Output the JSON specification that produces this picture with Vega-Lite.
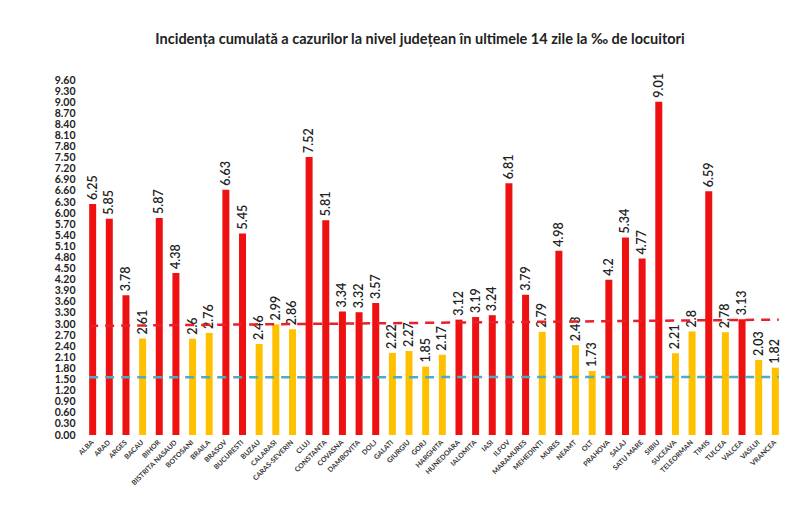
{
  "$schema": "https://vega.github.io/schema/vega-lite/v6.json",
  "autosize": "none",
  "width": 698,
  "height": 355,
  "padding": {"left": 85, "top": 80, "right": 17, "bottom": 84},
  "background": "white",
  "title": {
    "text": "Incidența cumulată a cazurilor la nivel județean în ultimele 14 zile la ‰ de locuitori",
    "font": "Lato",
    "fontSize": 14.5,
    "fontWeight": "bold",
    "color": "#222222",
    "anchor": "middle",
    "dx": -14,
    "offset": 26
  },
  "config": {
    "view": {"stroke": null},
    "font": "Lato",
    "axis": {"labelOverlap": false, "domain": false, "ticks": false, "grid": false, "title": null},
    "axisX": {
      "labelAngle": -45,
      "labelAlign": "right",
      "labelBaseline": "middle",
      "labelFontSize": 7,
      "labelFontWeight": "bold",
      "labelColor": "#333333",
      "labelPadding": 6,
      "labelOverlap": false
    },
    "axisY": {
      "labelFontSize": 10.5,
      "labelFontWeight": "bold",
      "labelColor": "#222222",
      "labelPadding": 10,
      "labelOverlap": false,
      "labelBound": false
    }
  },
  "datasets": {
    "counties": [
      {"judet": "ALBA", "v": 6.25},
      {"judet": "ARAD", "v": 5.85},
      {"judet": "ARGES", "v": 3.78},
      {"judet": "BACAU", "v": 2.61},
      {"judet": "BIHOR", "v": 5.87},
      {"judet": "BISTRITA NASAUD", "v": 4.38},
      {"judet": "BOTOSANI", "v": 2.6},
      {"judet": "BRAILA", "v": 2.76},
      {"judet": "BRASOV", "v": 6.63},
      {"judet": "BUCURESTI", "v": 5.45},
      {"judet": "BUZAU", "v": 2.46},
      {"judet": "CALARASI", "v": 2.99},
      {"judet": "CARAS-SEVERIN", "v": 2.86},
      {"judet": "CLUJ", "v": 7.52},
      {"judet": "CONSTANTA", "v": 5.81},
      {"judet": "COVASNA", "v": 3.34},
      {"judet": "DAMBOVITA", "v": 3.32},
      {"judet": "DOLJ", "v": 3.57},
      {"judet": "GALATI", "v": 2.22},
      {"judet": "GIURGIU", "v": 2.27},
      {"judet": "GORJ", "v": 1.85},
      {"judet": "HARGHITA", "v": 2.17},
      {"judet": "HUNEDOARA", "v": 3.12},
      {"judet": "IALOMITA", "v": 3.19},
      {"judet": "IASI", "v": 3.24},
      {"judet": "ILFOV", "v": 6.81},
      {"judet": "MARAMURES", "v": 3.79},
      {"judet": "MEHEDINTI", "v": 2.79},
      {"judet": "MURES", "v": 4.98},
      {"judet": "NEAMT", "v": 2.43},
      {"judet": "OLT", "v": 1.73},
      {"judet": "PRAHOVA", "v": 4.2},
      {"judet": "SALAJ", "v": 5.34},
      {"judet": "SATU MARE", "v": 4.77},
      {"judet": "SIBIU", "v": 9.01},
      {"judet": "SUCEAVA", "v": 2.21},
      {"judet": "TELEORMAN", "v": 2.8},
      {"judet": "TIMIS", "v": 6.59},
      {"judet": "TULCEA", "v": 2.78},
      {"judet": "VALCEA", "v": 3.13},
      {"judet": "VASLUI", "v": 2.03},
      {"judet": "VRANCEA", "v": 1.82}
    ],
    "thresholds": [
      {"x0": "ALBA", "x1": "VRANCEA", "y0": 2.95, "y1": 3.12, "kind": "red"},
      {"x0": "ALBA", "x1": "VRANCEA", "y0": 1.56, "y1": 1.57, "kind": "blue"}
    ]
  },
  "layer": [
    {
      "data": {"name": "counties"},
      "mark": {"type": "bar"},
      "encoding": {
        "x": {
          "field": "judet",
          "type": "nominal",
          "sort": null,
          "scale": {"paddingInner": 0.58, "paddingOuter": 0.25}
        },
        "y": {
          "field": "v",
          "type": "quantitative",
          "scale": {"domain": [0, 9.6], "nice": false},
          "axis": {
            "values": [0, 0.3, 0.6, 0.9, 1.2, 1.5, 1.8, 2.1, 2.4, 2.7, 3.0, 3.3, 3.6, 3.9, 4.2, 4.5, 4.8, 5.1, 5.4, 5.7, 6.0, 6.3, 6.6, 6.9, 7.2, 7.5, 7.8, 8.1, 8.4, 8.7, 9.0, 9.3, 9.6],
            "tickCount": 40,
            "format": ".2f",
            "labelOverlap": false
          }
        },
        "color": {
          "condition": {"test": "datum.v > 3", "value": "#EE1111"},
          "value": "#FFC000"
        }
      }
    },
    {
      "data": {"name": "counties"},
      "mark": {
        "type": "text",
        "angle": -90,
        "align": "left",
        "baseline": "middle",
        "dx": 4,
        "fontSize": 12.5,
        "fontWeight": 600,
        "color": "#222222"
      },
      "encoding": {
        "x": {"field": "judet", "type": "nominal", "sort": null},
        "y": {"field": "v", "type": "quantitative"},
        "text": {"field": "v", "type": "quantitative", "format": "~g"}
      }
    },
    {
      "data": {"name": "thresholds"},
      "mark": {"type": "rule", "strokeDash": [9, 7], "strokeWidth": 2.5},
      "encoding": {
        "x": {"field": "x0", "type": "nominal", "sort": null, "bandPosition": 0},
        "x2": {"field": "x1", "bandPosition": 1},
        "y": {"field": "y0", "type": "quantitative"},
        "y2": {"field": "y1"},
        "color": {
          "field": "kind",
          "type": "nominal",
          "scale": {"domain": ["red", "blue"], "range": ["#E8202A", "#4BACC6"]},
          "legend": null
        }
      }
    }
  ]
}
